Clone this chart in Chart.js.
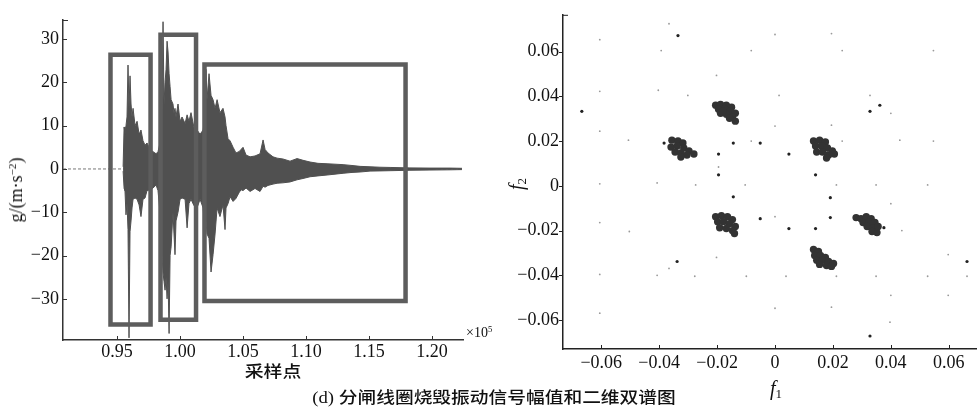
<!DOCTYPE html>
<html><head><meta charset="utf-8">
<script src="https://cdn.jsdelivr.net/npm/chart.js@4.4.1/dist/chart.umd.min.js"></script>
<style>
html,body{margin:0;padding:0;background:#fff;width:980px;height:412px;overflow:hidden;position:relative;font-family:"Liberation Serif",serif;}
canvas{position:absolute;top:0;}
#c1{left:0}#c2{left:490px}
.t{position:absolute;white-space:nowrap;color:#111;line-height:1;}
.rot{transform:translate(-50%,-50%) rotate(-90deg);}
.ctr{transform:translate(-50%,-50%);}
sup{font-size:0.62em;vertical-align:0.55em;line-height:0;}
sub{font-size:0.65em;vertical-align:-0.25em;line-height:0;font-style:normal;}
</style></head><body>
<canvas id="c1" width="490" height="412"></canvas>
<canvas id="c2" width="490" height="412"></canvas>
<div class="t rot" style="left:16px;top:190px;font-size:18px;">g/(m·s<sup>−2</sup>)</div>
<div class="t ctr" style="left:273px;top:370px;font-size:16px;font-family:'Noto Sans CJK SC';font-weight:500;transform:translate(-50%,-50%) scaleX(1.18);">采样点</div>
<div class="t" style="left:466px;top:326px;font-size:14px;">×10<sup>5</sup></div>
<div class="t rot" style="left:516px;top:184px;font-size:20px;"><i>f</i><sub>2</sub></div>
<div class="t ctr" style="left:776px;top:388px;font-size:20px;"><i>f</i><sub>1</sub></div>
<div class="t ctr" style="left:494px;top:398px;font-size:16px;font-family:'Liberation Serif','Noto Sans CJK SC';font-weight:500;transform:translate(-50%,-50%) scaleX(1.17);">(d) 分闸线圈烧毁振动信号幅值和二维双谱图</div>
<script>
// ---------- Left panel data (sampling points x 1e5, acceleration m/s^2) ----------
const xRangeLeft = [0.9071, 1.2246];
const yRangeLeft = [-39.5, 34.4];
const xTicksLeft = [0.95, 1.00, 1.05, 1.10, 1.15, 1.20];
const yTicksLeft = [-30, -20, -10, 0, 10, 20, 30];

const sigX = [0.9548,0.9556,0.9563,0.9571,0.9579,0.9587,0.9595,0.9603,0.9611,0.9619,0.9627,0.9643,0.9659,0.9675,0.9690,0.9706,0.9722,0.9738,0.9762,0.9786,0.9810,0.9825,0.9841,0.9849,0.9857,0.9865,0.9873,0.9881,0.9889,0.9897,0.9905,0.9913,0.9921,0.9929,0.9944,0.9952,0.9960,0.9968,0.9984,1.0000,1.0016,1.0040,1.0056,1.0071,1.0087,1.0111,1.0135,1.0159,1.0183,1.0198,1.0206,1.0214,1.0230,1.0246,1.0262,1.0278,1.0294,1.0317,1.0341,1.0357,1.0365,1.0381,1.0397,1.0421,1.0444,1.0468,1.0484,1.0500,1.0524,1.0556,1.0595,1.0635,1.0659,1.0675,1.0698,1.0738,1.0770,1.0817,1.0873,1.0929,1.0976,1.1032,1.1095,1.1167,1.1230,1.1294,1.1365,1.1429,1.1508,1.1587,1.1667,1.1746,1.1825,1.1984,1.2143,1.2238];
const sigUpper = [0.5,9.7,8,10,12,24,14,21.5,15,12,14,10,11,8,9,6.5,5.5,6,4.5,4,3.5,4,6,10,13,34,15,20,23,29.5,27,22,19,16,15,13,14,12,15,11,12,10.5,12.5,11,13,9.5,9,8,9,12,23,16,22,17,16,14,16,13,14,12,10,7,6.5,5,3.7,4,4.5,5,3.2,2.8,3,3.5,6.7,4.5,3.7,2.8,2.5,2.3,1.8,2.4,2,1.6,1.3,1.2,1.1,1,0.8,0.6,0.5,0.4,0.35,0.3,0.25,0.2,0.2,0.15];
const sigLower = [-0.5,-4.5,-5,-10.6,-8,-14,-39,-14.5,-12,-9,-7,-6.7,-7,-8.3,-11,-7,-6.7,-5,-4.8,-4.4,-3.7,-5,-10,-14.5,-20,-24,-26,-28,-25,-30,-26,-38,-20,-18,-10,-15,-19.8,-12,-10,-7,-6.7,-7,-13.6,-8,-7,-8.5,-9,-7,-9,-14.5,-12,-15,-16,-23.8,-19.8,-15,-9,-11,-8.3,-14,-9,-8,-6.4,-7.5,-6.8,-5.5,-4.8,-5,-4.4,-5.2,-4.5,-5.2,-4,-4.2,-3.8,-3.5,-3.3,-3.2,-3,-2.5,-2.2,-1.8,-1.6,-1.4,-1.2,-1,-0.8,-0.7,-0.5,-0.45,-0.4,-0.35,-0.3,-0.25,-0.2,-0.15];

const boxLeft   = [0.9448, 0.9845, 1.0194];
const boxRight  = [0.9766, 1.0127, 1.1790];
const boxTop    = [26.4, 31.0, 24.1];
const boxBottom = [-35.9, -34.8, -30.5];

// ---------- Right panel data (bispectrum f1, f2) ----------
const xRangeRight = [-0.0732, 0.0694];
const yRangeRight = [-0.0729, 0.0764];
const ticksRight = [-0.06, -0.04, -0.02, 0, 0.02, 0.04, 0.06];

const blobA = [[-0.0205,0.0360],[-0.0188,0.0364],[-0.0168,0.0360],[-0.0150,0.0351],[-0.0195,0.0342],[-0.0174,0.0342],[-0.0154,0.0333],[-0.0137,0.0324],[-0.0188,0.0324],[-0.0168,0.0320],[-0.0147,0.0307],[-0.0137,0.0289],[-0.0157,0.0302],[-0.0180,0.0333]];
const blobB = [[-0.0356,0.0204],[-0.0335,0.0200],[-0.0318,0.0191],[-0.0359,0.0173],[-0.0338,0.0178],[-0.0315,0.0169],[-0.0297,0.0156],[-0.0280,0.0142],[-0.0345,0.0151],[-0.0325,0.0147],[-0.0304,0.0138],[-0.0325,0.0129]];
const blobC = [[0.0133,0.0200],[0.0154,0.0204],[0.0174,0.0196],[0.0140,0.0178],[0.0161,0.0178],[0.0181,0.0169],[0.0198,0.0156],[0.0205,0.0142],[0.0144,0.0151],[0.0164,0.0151],[0.0185,0.0138],[0.0178,0.0124]];
const blobD = [[-0.0205,-0.0138],[-0.0185,-0.0133],[-0.0164,-0.0138],[-0.0147,-0.0151],[-0.0198,-0.0160],[-0.0178,-0.0160],[-0.0157,-0.0169],[-0.0137,-0.0182],[-0.0191,-0.0187],[-0.0168,-0.0191],[-0.0147,-0.0200],[-0.0140,-0.0213]];
const blobE = [[0.0280,-0.0142],[0.0297,-0.0147],[0.0315,-0.0138],[0.0332,-0.0147],[0.0304,-0.0164],[0.0325,-0.0164],[0.0345,-0.0164],[0.0318,-0.0182],[0.0338,-0.0187],[0.0356,-0.0182],[0.0335,-0.0204],[0.0352,-0.0209]];
const blobF = [[0.0133,-0.0284],[0.0150,-0.0293],[0.0137,-0.0311],[0.0157,-0.0311],[0.0174,-0.0320],[0.0144,-0.0333],[0.0164,-0.0333],[0.0185,-0.0338],[0.0202,-0.0347],[0.0154,-0.0351],[0.0178,-0.0356],[0.0195,-0.0360]];
const darkDots = [[-0.0144,0.0191],[-0.0195,0.0142],[-0.0051,0.0191],[-0.0195,0.0049],[-0.0144,-0.0049],[-0.0051,-0.0147],[0.0048,0.0142],[0.0140,0.0049],[0.0191,-0.0053],[0.0191,-0.0142],[0.0048,-0.0191],[0.0140,-0.0191],[0.0328,0.0333],[0.0362,0.0360],[-0.0338,-0.0338],[-0.0383,0.0191],[0.0376,-0.0187],[-0.0335,0.0671],[0.0328,-0.0671],[-0.0667,0.0333],[0.0663,-0.0338]];
const lightDots = [[-0.0605,0.0653],[-0.0366,0.0724],[-0.0393,0.0604],[-0.0605,0.0422],[-0.0605,0.0244],[-0.0403,0.0427],[-0.0301,0.0404],[-0.0506,0.0204],[-0.0202,0.0493],[-0.0605,0.0009],[-0.0407,0.0013],[-0.0274,0.0004],[-0.0195,0.0084],[0,0.0676],[0.0195,0.068],[-0.0082,0.0604],[0.0232,0.0604],[0.0547,0.0604],[0.0014,0.0404],[0.0328,0.0404],[0.04,0.0324],[0,0.0267],[0.0195,0.0271],[0.0431,0.0204],[0.0547,0.02],[-0.0082,0.02],[0.0232,0.02],[-0.0103,0.0004],[0.0212,0.0004],[0.0349,0.0004],[0.0527,0.0004],[0.04,-0.008],[0,-0.0138],[0.0438,-0.02],[0.0598,-0.0307],[-0.0099,-0.0404],[0.0038,-0.0404],[0.0212,-0.0404],[0.0349,-0.0404],[0.0527,-0.0404],[0.0663,-0.0404],[0.04,-0.0489],[0.0598,-0.0489],[0,-0.0547],[0.0195,-0.0542],[0.0397,-0.0609],[-0.0605,-0.0164],[-0.0503,-0.0204],[-0.0366,-0.0369],[-0.0407,-0.04],[-0.0277,-0.0404],[-0.0202,-0.032],[-0.0605,-0.0396],[-0.0605,-0.0569]];

// ---------- helpers ----------
const MINUS = '\u2212';
const fmt2 = v => Math.abs(v) < 1e-9 ? '0' : (v < 0 ? MINUS : '') + Math.abs(v).toFixed(2);
const fmtInt = v => v === 0 ? '0' : (v < 0 ? MINUS : '') + Math.abs(v);
const pts = arr => arr.map(p => ({x: p[0], y: p[1]}));
const FONT = {family: "'Liberation Serif', serif", size: 18};
const NOGRID = {display: false, drawTicks: false, tickLength: 0};

const tickMarks = {
  id: 'tickMarks',
  afterDraw(chart, args, o) {
    const {ctx, chartArea: a, scales} = chart;
    ctx.save();
    ctx.strokeStyle = o.color; ctx.lineWidth = 1;
    scales.x.ticks.forEach(t => {
      const px = Math.round(scales.x.getPixelForValue(t.value)) + 0.5;
      ctx.beginPath(); ctx.moveTo(px, a.bottom); ctx.lineTo(px, a.bottom + o.xLen); ctx.stroke();
    });
    scales.y.ticks.forEach(t => {
      const py = Math.round(scales.y.getPixelForValue(t.value)) + 0.5;
      ctx.beginPath(); ctx.moveTo(a.left, py); ctx.lineTo(a.left + o.yLen, py); ctx.stroke();
    });
    ctx.beginPath(); ctx.moveTo(a.left, a.top + 0.5); ctx.lineTo(a.left + o.topLen, a.top + 0.5); ctx.stroke();
    ctx.restore();
  }
};

// ---------- Left chart ----------
const boxDatasets = boxLeft.map((L, i) => ({
  data: [{x: L, y: boxBottom[i]}, {x: L, y: boxTop[i]}, {x: boxRight[i], y: boxTop[i]}, {x: boxRight[i], y: boxBottom[i]}, {x: L, y: boxBottom[i]}, {x: L, y: boxTop[i]}],
  borderColor: '#5d5d5d', borderWidth: 4.5, pointRadius: 0, fill: false, tension: 0,
  borderJoinStyle: 'miter', borderCapStyle: 'butt'
}));

new Chart(document.getElementById('c1'), {
  type: 'line',
  data: { datasets: [
    ...boxDatasets,
    { data: sigX.map((x, i) => ({x, y: sigUpper[i]})), borderColor: '#505050', backgroundColor: '#505050', borderWidth: 1, pointRadius: 0, tension: 0, fill: '+1' },
    { data: sigX.map((x, i) => ({x, y: sigLower[i]})), borderColor: '#505050', borderWidth: 1, pointRadius: 0, tension: 0, fill: false },
    { data: [{x: xRangeLeft[0], y: 0}, {x: xRangeLeft[1], y: 0}], borderColor: '#777', borderWidth: 1, borderDash: [3, 2], pointRadius: 0, fill: false }
  ]},
  options: {
    responsive: false, animation: false, devicePixelRatio: 1,
    layout: {padding: {top: 20, right: 27, left: 0, bottom: 0}},
    plugins: {legend: {display: false}, tooltip: {enabled: false}, tickMarks: {color: '#333', xLen: -4, yLen: 4, topLen: 5}},
    scales: {
      x: {
        type: 'linear', min: xRangeLeft[0], max: xRangeLeft[1],
        grid: NOGRID, border: {display: true, color: '#333', width: 1.5},
        afterBuildTicks: s => { s.ticks = xTicksLeft.map(v => ({value: v})); },
        afterFit: s => { s.height = 72; },
        ticks: {autoSkip: false, maxRotation: 0, padding: 1, color: '#111', font: FONT, callback: v => v.toFixed(2)}
      },
      y: {
        type: 'linear', min: yRangeLeft[0], max: yRangeLeft[1],
        grid: NOGRID, border: {display: true, color: '#333', width: 1.5},
        afterBuildTicks: s => { s.ticks = yTicksLeft.map(v => ({value: v})); },
        afterFit: s => { s.width = 63; },
        ticks: {autoSkip: false, padding: 4, color: '#111', font: FONT, callback: v => fmtInt(v)}
      }
    }
  },
  plugins: [tickMarks]
});

// ---------- Right chart ----------
const blobStyle = {pointRadius: 3.7, pointBackgroundColor: '#333', pointBorderWidth: 0, showLine: false};
new Chart(document.getElementById('c2'), {
  type: 'scatter',
  data: { datasets: [
    {data: pts(lightDots), pointRadius: 0.9, pointBackgroundColor: '#9a9a9a', pointBorderWidth: 0},
    {data: pts(darkDots), pointRadius: 1.6, pointBackgroundColor: '#222', pointBorderWidth: 0},
    {data: pts(blobA), ...blobStyle},
    {data: pts(blobB), ...blobStyle},
    {data: pts(blobC), ...blobStyle},
    {data: pts(blobD), ...blobStyle},
    {data: pts(blobE), ...blobStyle},
    {data: pts(blobF), ...blobStyle}
  ]},
  options: {
    responsive: false, animation: false, devicePixelRatio: 1,
    layout: {padding: {top: 13, right: 0, left: 0, bottom: 0}},
    plugins: {legend: {display: false}, tooltip: {enabled: false}, tickMarks: {color: '#222', xLen: -4, yLen: -4, topLen: 5}},
    scales: {
      x: {
        type: 'linear', min: xRangeRight[0], max: xRangeRight[1],
        grid: NOGRID, border: {display: true, color: '#222', width: 1.5},
        afterBuildTicks: s => { s.ticks = ticksRight.map(v => ({value: v})); },
        afterFit: s => { s.height = 63; },
        ticks: {autoSkip: false, maxRotation: 0, padding: 3, color: '#111', font: FONT, callback: v => fmt2(v)}
      },
      y: {
        type: 'linear', min: yRangeRight[0], max: yRangeRight[1],
        grid: NOGRID, border: {display: true, color: '#222', width: 1.5},
        afterBuildTicks: s => { s.ticks = ticksRight.map(v => ({value: v})); },
        afterFit: s => { s.width = 73; },
        ticks: {autoSkip: false, padding: 4, color: '#111', font: FONT, callback: v => fmt2(v)}
      }
    }
  },
  plugins: [tickMarks]
});
</script>
</body></html>
